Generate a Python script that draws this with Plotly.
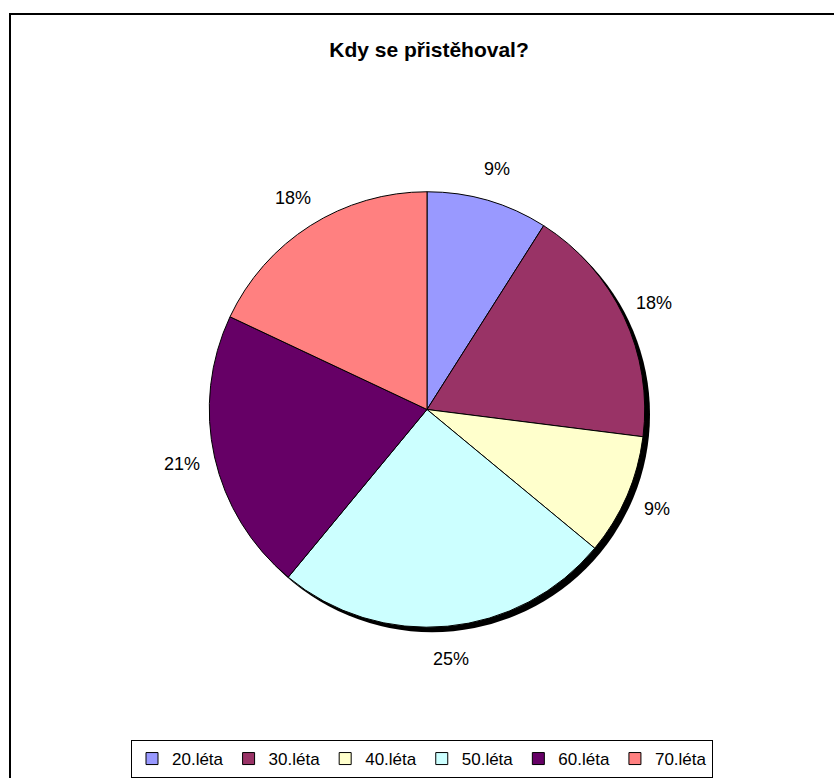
import math
import plotly.graph_objects as go

categories = ["20.léta", "30.léta", "40.léta", "50.léta", "60.léta", "70.léta"]
values = [9, 18, 9, 25, 21, 18]
colors = ["#9999FF", "#993366", "#FFFFCC", "#CCFFFF", "#660066", "#FF8080"]
title_text = "Kdy se přistěhoval?"

W, H = 834, 778
cx, cy, r = 427, 410, 218   # pie centre / radius in px
shadow = 5
label_dist = 251

dom_x = [(cx - r) / W, (cx + r) / W]
dom_y = [1 - (cy + r) / H, 1 - (cy - r) / H]

fig = go.Figure()
fig.add_trace(go.Pie(
    labels=categories,
    values=values,
    sort=False,
    direction="clockwise",
    rotation=0,
    marker=dict(colors=colors, line=dict(color="black", width=1)),
    textinfo="none",
    domain=dict(x=dom_x, y=dom_y),
    hoverinfo="label+percent",
))

# percentage labels placed outside each slice, derived from the data
total = sum(values)
cum = 0
for v in values:
    mid = (cum + v / 2) / total * 2 * math.pi
    cum += v
    lx = cx + label_dist * math.sin(mid)
    ly = cy - label_dist * math.cos(mid)
    fig.add_annotation(x=lx / W, y=1 - ly / H, xref="paper", yref="paper",
                       text=f"{round(v / total * 100)}%", showarrow=False,
                       xanchor="center", yanchor="middle",
                       font=dict(family="Liberation Sans, Arial, sans-serif", size=18, color="black"))

# chart-area border
fig.add_shape(type="rect", xref="paper", yref="paper",
              x0=10 / W, x1=1.05, y0=-0.05, y1=1 - 14 / H,
              line=dict(color="black", width=2), fillcolor="rgba(0,0,0,0)", layer="below")
# pie shadow
fig.add_shape(type="circle", xref="paper", yref="paper",
              x0=(cx - r + shadow) / W, x1=(cx + r + shadow) / W,
              y0=1 - (cy + r + shadow) / H, y1=1 - (cy - r + shadow) / H,
              line=dict(color="black", width=0), fillcolor="black", layer="below")

fig.update_layout(
    width=W, height=H,
    margin=dict(l=0, r=0, t=0, b=0),
    paper_bgcolor="white",
    plot_bgcolor="white",
    font=dict(family="Liberation Sans, Arial, sans-serif", color="black"),
    title=dict(text="<b>" + title_text + "</b>", x=429 / W, xanchor="center",
               y=1 - 50 / H, yanchor="middle", yref="container",
               font=dict(size=21, color="black")),
    showlegend=True,
    legend=dict(orientation="h", x=422 / W, xanchor="center", y=1 - 741 / H, yanchor="top",
                bordercolor="black", borderwidth=1, bgcolor="white",
                font=dict(size=17, color="black"), traceorder="normal"),
)

fig.write_html("out.html")
